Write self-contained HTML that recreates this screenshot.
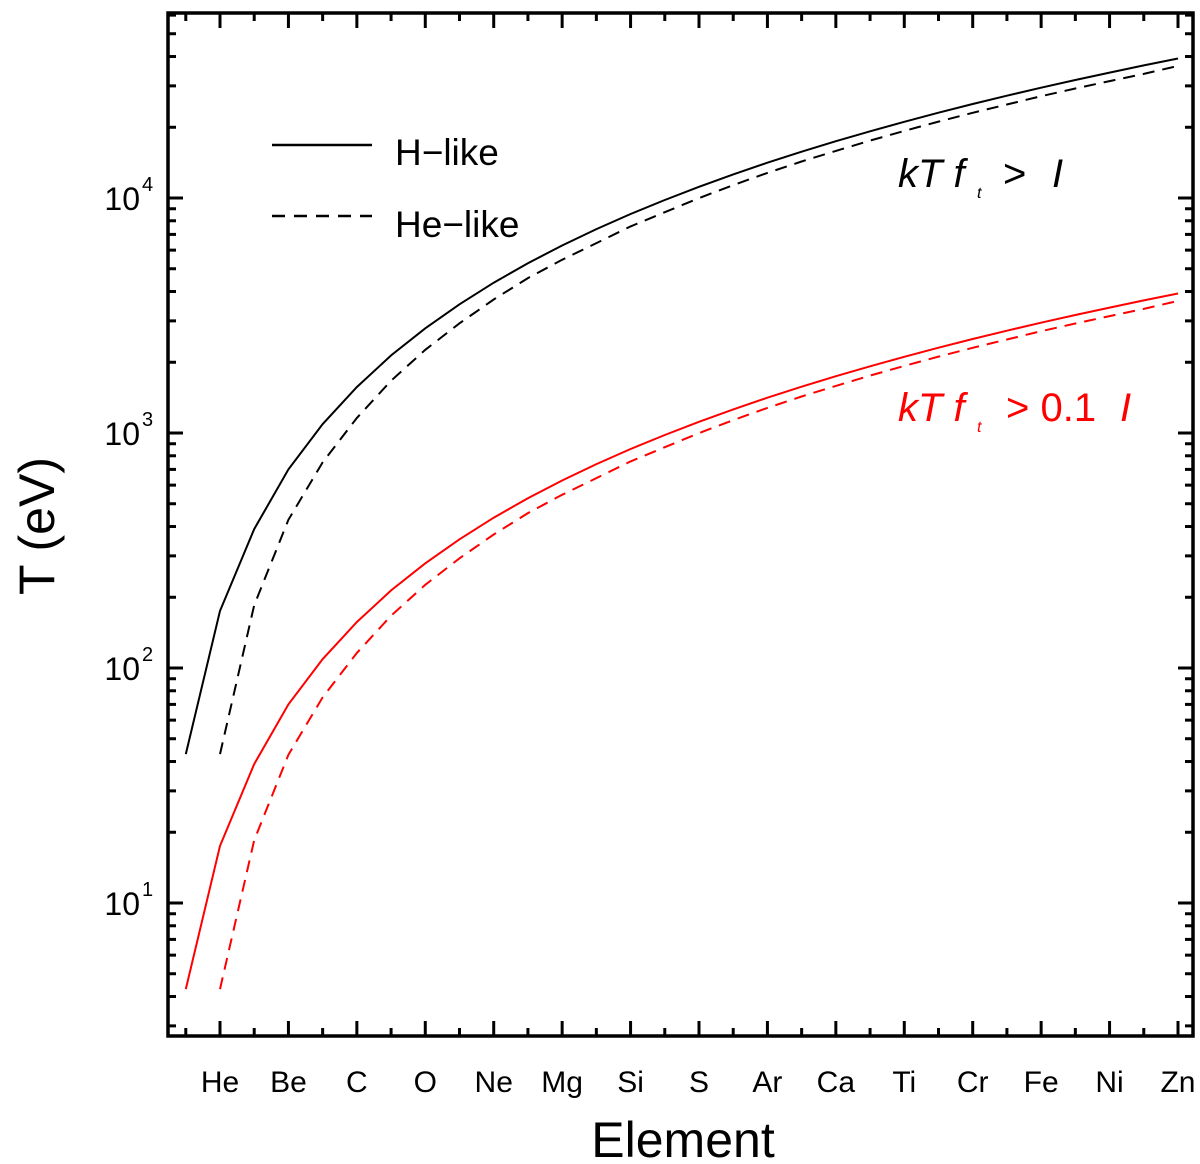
<!DOCTYPE html>
<html><head><meta charset="utf-8"><style>
html,body{margin:0;padding:0;background:#fff;}
svg{display:block;font-family:"Liberation Sans",sans-serif;}
</style></head><body>
<svg id="chart" width="1200" height="1164" viewBox="0 0 1200 1164" xmlns="http://www.w3.org/2000/svg"></svg>
<script>
const zValues = [1,2,3,4,5,6,7,8,9,10,11,12,13,14,15,16,17,18,19,20,21,22,23,24,25,26,27,28,29,30];
const hLikeBlack = [43,175,390,700,1090,1570,2140,2790,3530,4360,5280,6280,7370,8550,9810,11160,12600,14130,15740,17440,19230,21100,23060,25110,27250,29470,31780,34180,36670,39240];
const heZValues = [2,3,4,5,6,7,8,9,10,11,12,13,14,15,16,17,18,19,20,21,22,23,24,25,26,27,28,29,30];
const heLikeBlack = [43,185,427,750,1160,1670,2260,2930,3700,4560,5460,6430,7570,8700,9990,11350,12790,14300,15870,17550,19300,21150,23040,25000,27110,29240,31440,33720,36490];
const hLikeRed = [4.3,17.5,39,70,109,157,214,279,353,436,528,628,737,855,981,1116,1260,1413,1574,1744,1923,2110,2306,2511,2725,2947,3178,3418,3667,3924];
const heLikeRed = [4.3,18.5,42.7,75,116,167,226,293,370,456,546,643,757,870,999,1135,1279,1430,1587,1755,1930,2115,2304,2500,2711,2924,3144,3372,3649];
const xTickLabels = ['He','Be','C','O','Ne','Mg','Si','S','Ar','Ca','Ti','Cr','Fe','Ni','Zn'];
const yDecades = [1,2,3,4];

const svg = document.getElementById('chart');
const NS = 'http://www.w3.org/2000/svg';
const L=168,R=1193,T=13,B=1036;
function xs(z){return 220+(z-2)*34.214;}
function ys(v){return 668-(Math.log10(v)-2)*235;}
function mk(tag,attrs,parent){const e=document.createElementNS(NS,tag);for(const k in attrs)e.setAttribute(k,attrs[k]);(parent||svg).appendChild(e);return e;}

const clip=mk('clipPath',{id:'pc'});mk('rect',{x:L,y:T,width:R-L,height:B-T},clip);

function series(xsArr,vals,color,dash,name){
  const d=vals.map((v,i)=>(i?'L':'M')+xs(xsArr[i]).toFixed(1)+','+ys(v).toFixed(1)).join(' ');
  const p=mk('path',{d:d,fill:'none',stroke:color,'stroke-width':2,'clip-path':'url(#pc)'});
  if(dash)p.setAttribute('stroke-dasharray','12,8');
  
  
}
series(zValues,hLikeBlack,'#000',false,'h-like-black-line');
series(heZValues,heLikeBlack,'#000',true,'he-like-black-line');
series(zValues,hLikeRed,'#ff0000',false,'h-like-red-line');
series(heZValues,heLikeRed,'#ff0000',true,'he-like-red-line');

const frame=mk('rect',{x:L,y:T,width:R-L,height:B-T,fill:'none',stroke:'#000','stroke-width':3.5});



for(let z=1;z<=30;z++){
  const x=xs(z), len=(z%2===0)?15:8;
  mk('line',{x1:x,y1:B,x2:x,y2:B-len,stroke:'#000','stroke-width':3});
  mk('line',{x1:x,y1:T,x2:x,y2:T+len,stroke:'#000','stroke-width':3});
}
xTickLabels.forEach((lab,i)=>{
  const t=mk('text',{x:xs(2+2*i),y:1092,'text-anchor':'middle','font-size':30});
  t.textContent=lab;
  
  
});
for(let d=0;d<=4;d++){
  for(let m=1;m<=9;m++){
    const v=m*Math.pow(10,d), y=ys(v);
    if(y<T||y>B)continue;
    const len=m===1?15:8;
    mk('line',{x1:L,y1:y,x2:L+len,y2:y,stroke:'#000','stroke-width':3});
    mk('line',{x1:R,y1:y,x2:R-len,y2:y,stroke:'#000','stroke-width':3});
  }
}
yDecades.forEach(d=>{
  const y=ys(Math.pow(10,d));
  const t=mk('text',{x:140,y:y+12,'text-anchor':'end','font-size':32});
  t.textContent='10';
  
  
  const s=mk('text',{x:142,y:y-7,'font-size':20});
  s.textContent=String(d);
});
</script>
<svg style="position:absolute;left:0;top:0" width="1200" height="1164" xmlns="http://www.w3.org/2000/svg" font-family="Liberation Sans, sans-serif">
  <text x="683" y="1157" text-anchor="middle" font-size="50">Element</text>
  <text transform="translate(54,526) rotate(-90)" text-anchor="middle" font-size="50">T (eV)</text>
  <g>
    <line x1="272" y1="145" x2="372" y2="145" stroke="#000" stroke-width="2.5"/>
    <text x="395" y="165" font-size="37">H−like</text>
    <line x1="272" y1="216" x2="372" y2="216" stroke="#000" stroke-width="2.5" stroke-dasharray="13,9"/>
    <text x="395" y="237" font-size="37">He−like</text>
  </g>
  <g font-style="italic" font-size="40">
    <text x="898" y="187">kT f</text>
    <text x="977" y="198" font-size="16">t</text>
    <text x="1003" y="187" font-style="normal">&gt;</text>
    <text x="1052" y="187">I</text>
  </g>
  <g font-style="italic" font-size="40" fill="#ff0000">
    <text x="898" y="421">kT f</text>
    <text x="977" y="432" font-size="16">t</text>
    <text x="1006" y="421" font-style="normal">&gt; 0.1</text>
    <text x="1120" y="421">I</text>
  </g>
</svg>
</body></html>
